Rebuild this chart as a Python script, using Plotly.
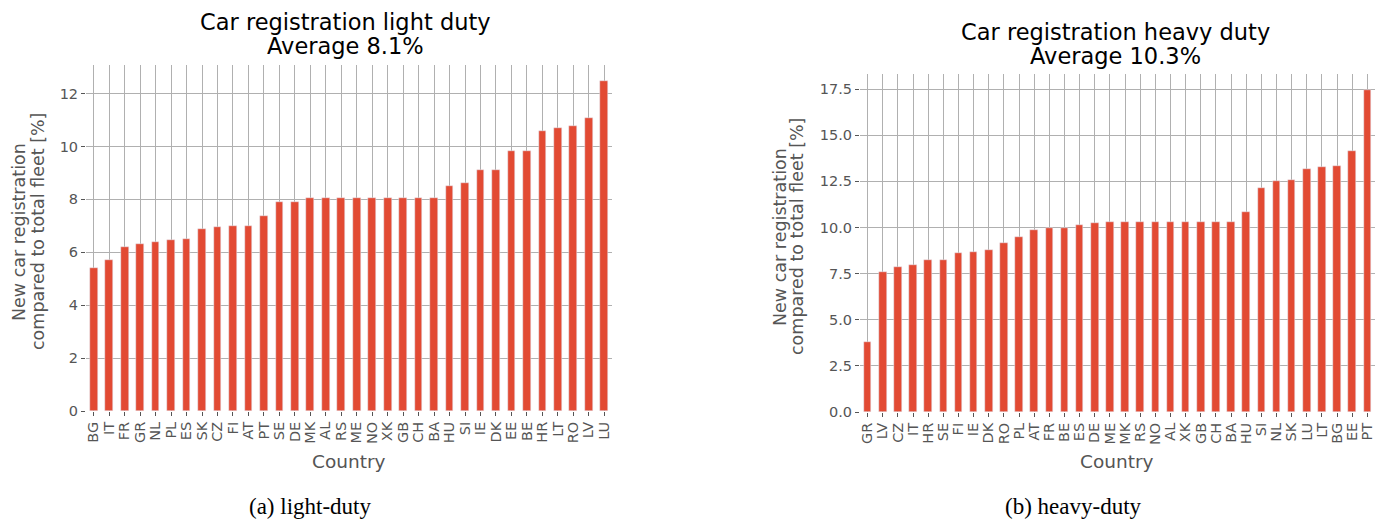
import plotly.graph_objects as go

W, H = 1386, 522

light_countries = ["BG", "IT", "FR", "GR", "NL", "PL", "ES", "SK", "CZ", "FI", "AT", "PT",
                   "SE", "DE", "MK", "AL", "RS", "ME", "NO", "XK", "GB", "CH", "BA", "HU",
                   "SI", "IE", "DK", "EE", "BE", "HR", "LT", "RO", "LV", "LU"]
light_values = [5.39, 5.72, 6.21, 6.32, 6.39, 6.47, 6.51, 6.88, 6.96, 7.0, 7.0, 7.37,
                7.90, 7.90, 8.05, 8.05, 8.05, 8.05, 8.05, 8.05, 8.05, 8.05, 8.05, 8.50,
                8.62, 9.11, 9.11, 9.82, 9.82, 10.58, 10.69, 10.77, 11.07, 12.46]

heavy_countries = ["GR", "LV", "CZ", "IT", "HR", "SE", "FI", "IE", "DK", "RO", "PL", "AT",
                   "FR", "BE", "ES", "DE", "ME", "MK", "RS", "NO", "AL", "XK", "GB", "CH",
                   "BA", "HU", "SI", "NL", "SK", "LU", "LT", "BG", "EE", "PT"]
heavy_values = [3.79, 7.57, 7.84, 7.95, 8.22, 8.22, 8.60, 8.65, 8.76, 9.14, 9.51, 9.89,
                9.95, 9.95, 10.16, 10.27, 10.32, 10.32, 10.32, 10.32, 10.32, 10.32, 10.32, 10.32,
                10.32, 10.86, 12.16, 12.54, 12.59, 13.18, 13.29, 13.35, 14.15, 17.45]

light_ticks = [0, 2, 4, 6, 8, 10, 12]
heavy_ticks = [0, 2.5, 5, 7.5, 10, 12.5, 15, 17.5]
heavy_ticktext = ["0.0", "2.5", "5.0", "7.5", "10.0", "12.5", "15.0", "17.5"]

BAR = "#E24A33"
GRID = "#b0b0b0"
TXT = "#555555"
FONT = "DejaVu Sans"

fig = go.Figure()
fig.add_trace(go.Bar(x=light_countries, y=light_values, marker_color=BAR, width=0.5,
                     xaxis="x", yaxis="y", showlegend=False))
fig.add_trace(go.Bar(x=heavy_countries, y=heavy_values, marker_color=BAR, width=0.5,
                     xaxis="x2", yaxis="y2", showlegend=False))

def px(x):
    return x / W

def py(y):
    return 1 - y / H

xcommon = dict(type="category", showgrid=True, gridcolor=GRID, gridwidth=1,
               tickmode="linear", tick0=0, dtick=1,
               ticks="outside", ticklen=4, tickcolor=TXT, tickangle=-90,
               tickfont=dict(family=FONT, size=14.5, color=TXT), showline=False,
               zeroline=False, automargin=False)
ycommon = dict(showgrid=True, gridcolor=GRID, gridwidth=1, ticks="outside", ticklen=4,
               tickcolor=TXT, tickfont=dict(family=FONT, size=14.5, color=TXT),
               showline=False, zeroline=False, automargin=False)

fig.update_layout(
    width=W, height=H, margin=dict(l=0, r=0, t=0, b=0),
    paper_bgcolor="white", plot_bgcolor="white", bargap=0,
    xaxis=dict(domain=[px(86), px(612)], anchor="y", range=[-0.5, 33.5], **xcommon),
    yaxis=dict(domain=[py(411), py(65)], anchor="x", range=[0, 13.08],
               tickmode="array", tickvals=light_ticks, **ycommon),
    xaxis2=dict(domain=[px(860), px(1375)], anchor="y2", range=[-0.5, 33.5], **xcommon),
    yaxis2=dict(domain=[py(412), py(74)], anchor="x2", range=[0, 18.32],
                tickmode="array", tickvals=heavy_ticks, ticktext=heavy_ticktext, **ycommon),
)

ann = []

def text(t, x, y, size, color, family=FONT, angle=0):
    ann.append(dict(text=t, x=px(x), y=py(y), xref="paper", yref="paper", showarrow=False,
                    xanchor="center", yanchor="middle", textangle=angle,
                    font=dict(family=family, size=size, color=color)))

# titles
text("Car registration light duty", 345, 22, 22.5, "black")
text("Average 8.1%", 345, 46, 22.5, "black")
text("Car registration heavy duty", 1115, 32, 22.5, "black")
text("Average 10.3%", 1115, 56, 22.5, "black")
# y titles
text("New car registration", 19, 232, 17.5, TXT, angle=-90)
text("compared to total fleet [%]", 38, 232, 17.5, TXT, angle=-90)
text("New car registration", 780, 237, 17.5, TXT, angle=-90)
text("compared to total fleet [%]", 797, 237, 17.5, TXT, angle=-90)
# x titles
text("Country", 349, 461, 18.5, TXT)
text("Country", 1117, 461, 18.5, TXT)
# captions
text("(a) light-duty", 310, 506, 23, "black", family="Liberation Serif")
text("(b) heavy-duty", 1073, 506, 23, "black", family="Liberation Serif")

fig.update_layout(annotations=ann)

fig.write_html("out.html", config={"displayModeBar": False},
               post_script="document.body.style.margin='0';document.body.style.overflow='hidden';")
